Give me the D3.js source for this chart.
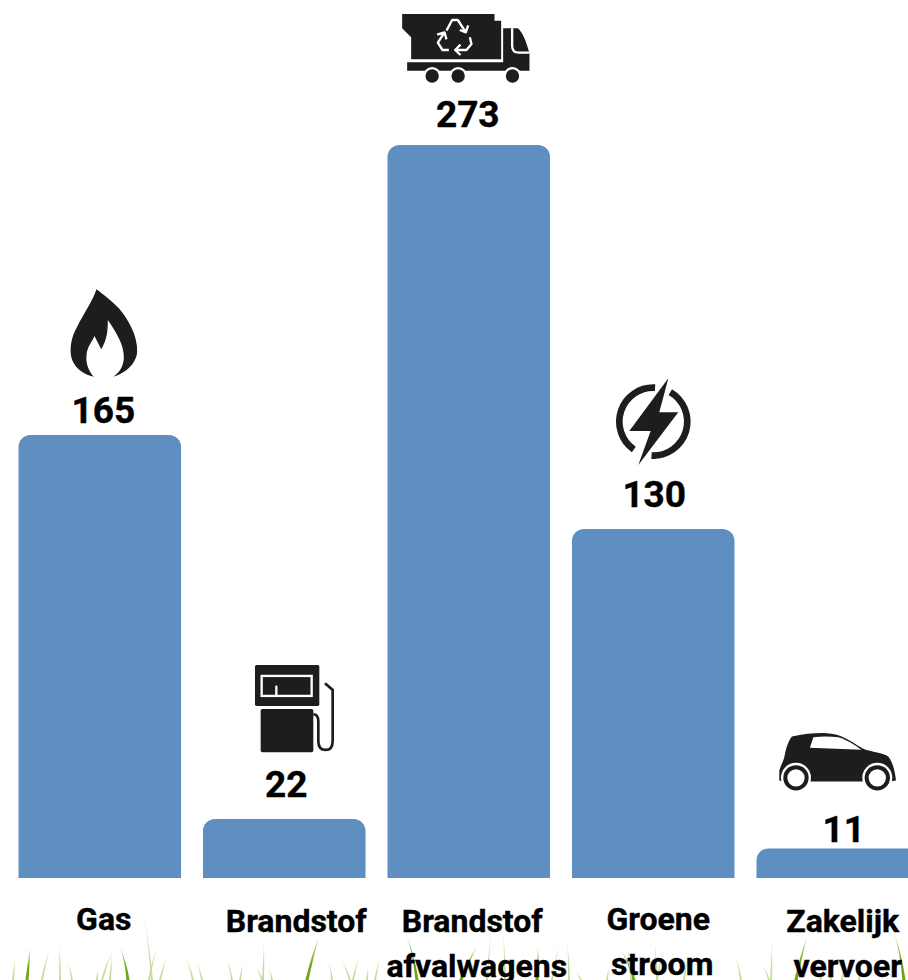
<!DOCTYPE html>
<html lang="en">
  <head>
    <meta charset="utf-8" />
    <title>Uitstoot per bron</title>
    <script src="https://cdnjs.cloudflare.com/ajax/libs/d3/7.8.5/d3.min.js"></script>
    <style type="text/css">
      html, body { margin: 0; padding: 0; background: #fff; overflow: hidden; }
      svg { display: block; }
      text { font-family: Roboto, sans-serif; font-weight: 700; fill: #000; stroke: #000; stroke-width: 0.4px; text-anchor: middle; }
    </style>
  </head>

  <body>
    <div id="chart"></div>
    <script>
      const categories = ['Gas', 'Brandstof', 'Brandstof afvalwagens', 'Groene stroom', 'Zakelijk vervoer'];
      const values = [165, 22, 273, 130, 11];
      const categoryLines = [['Gas'], ['Brandstof'], ['Brandstof', 'afvalwagens'], ['Groene', 'stroom'], ['Zakelijk', 'vervoer']];

      // label placement (not centred in the original)
      const valueDx = [3.5, 2, -1, 1, 6];
      const valueLift = [12, 22, 18, 22, 6];
      const categoryDx = [4, 12, 3.5, 5, 5];
      const categoryDxLine2 = [0, 0, 4.5, 4, 5];
      const categoryBaseline = [930, 932, 932, 930, 932];
      const iconDx = [32, 27, -7, 28, 3.5];
      const iconDy = [-155, -164, -145, -159, -128];

      // grass blades: [base x, tip x, tip y, strong?]
      const blades = [
        [13, 15, 958, 0], [27, 30, 948, 1], [42, 50, 947, 0], [60, 59, 940, 0], [72, 67, 960, 0],
        [97, 98, 968, 0], [102, 113, 950, 0], [110, 112, 953, 0], [128, 120, 947, 1], [152, 142, 907, 0],
        [149, 157, 947, 0], [160, 167, 957, 0], [193, 183, 953, 0], [202, 195, 958, 0], [232, 225, 955, 0],
        [240, 243, 963, 0], [262, 253, 963, 0], [263, 264, 938, 0], [272, 268, 967, 0], [307, 319, 937, 1],
        [332, 328, 960, 0], [350, 337, 953, 0], [353, 359, 957, 0], [367, 368, 967, 0], [375, 380, 958, 0],
        [417, 406, 933, 1], [461, 477, 947, 1], [487, 491, 933, 0], [505, 503, 930, 0], [537, 538, 947, 1],
        [552, 559, 945, 0], [569, 567, 938, 0], [581, 574, 970, 0], [607, 609, 967, 0], [634, 619, 947, 1],
        [631, 627, 945, 0], [657, 654, 938, 0], [657, 664, 947, 0], [684, 687, 957, 0], [741, 734, 953, 0],
        [769, 761, 963, 0], [771, 772, 938, 0], [796, 807, 937, 1], [821, 817, 967, 0], [831, 834, 953, 0],
        [842, 844, 967, 0], [859, 862, 960, 0], [904, 894, 932, 1]
      ];

      const width = 908, height = 980;
      const baseY = 878, topY = 145, corner = 12;

      const svg = d3.select('#chart')
        .append('svg')
        .attr('width', width)
        .attr('height', height);

      const x = d3.scaleBand()
        .domain(categories)
        .range([18.5, 919])
        .paddingInner(0.119)
        .paddingOuter(0);

      const y = d3.scaleLinear()
        .domain([0, d3.max(values)])
        .range([baseY, topY]);

      // blades fade out toward the tip
      const defs = svg.append('defs');
      [['bladeStrong', '#6ea51c', '#cfe3a8'], ['bladeFaint', '#c6dc9c', '#eef5e0']].forEach(([id, low, high]) => {
        const g = defs.append('linearGradient')
          .attr('id', id)
          .attr('x1', 0).attr('y1', 1).attr('x2', 0).attr('y2', 0);
        g.append('stop').attr('offset', '35%').attr('stop-color', low);
        g.append('stop').attr('offset', '100%').attr('stop-color', high);
      });

      // grass sits behind everything
      const grass = svg.append('g');
      blades.forEach(([bx, tx, ty, strong]) => {
        const p = d3.path();
        const w = strong ? 1.6 : 1;
        p.moveTo(bx - w, height);
        p.quadraticCurveTo(bx + (tx - bx) * 0.4, ty + (height - ty) * 0.4, tx, ty);
        p.quadraticCurveTo(bx + (tx - bx) * 0.4 + w, ty + (height - ty) * 0.45, bx + w, height);
        p.closePath();
        grass.append('path')
          .attr('d', p.toString())
          .attr('fill', strong ? 'url(#bladeStrong)' : 'url(#bladeFaint)');
      });

      function barPath(cat, value) {
        const l = x(cat), r = l + x.bandwidth(), t = y(value), b = y(0);
        const p = d3.path();
        p.moveTo(l, b);
        p.lineTo(l, t + corner);
        p.arcTo(l, t, l + corner, t, corner);
        p.lineTo(r - corner, t);
        p.arcTo(r, t, r, t + corner, corner);
        p.lineTo(r, b);
        p.closePath();
        return p.toString();
      }

      svg.append('g').selectAll('path')
        .data(categories)
        .join('path')
        .attr('d', (d, i) => barPath(d, values[i]))
        .attr('fill', '#5f8fc0');

      svg.append('g').selectAll('text')
        .data(categories)
        .join('text')
        .attr('x', (d, i) => x(d) + x.bandwidth() / 2 + valueDx[i])
        .attr('y', (d, i) => y(values[i]) - valueLift[i])
        .attr('font-size', 37)
        .text((d, i) => values[i]);

      categories.forEach((cat, i) => {
        categoryLines[i].forEach((line, j) => {
          svg.append('text')
            .attr('x', x(cat) + x.bandwidth() / 2 + categoryDx[i] + (j ? categoryDxLine2[i] : 0))
            .attr('y', categoryBaseline[i] + j * 45)
            .attr('font-size', 32)
            .text(line);
        });
      });

      // icons, drawn at 3x and scaled down
      const ink = '#1d1d1b';
      const icons = categories.map((cat, i) => svg.append('g')
        .attr('transform', `translate(${x(cat) + iconDx[i]},${y(values[i]) + iconDy[i]}) scale(${1 / 3})`));

      // flame
      icons[0].append('path')
        .attr('fill', ink)
        .attr('d', 'M138,28 C128,60 100,100 80,140 C62,170 55,210 65,240 C75,265 100,285 130,290 C115,275 105,250 108,225 C110,200 125,185 132,168 L152,208 C170,180 172,150 172,120 C200,160 222,200 220,235 C218,262 205,280 188,290 C225,280 258,250 260,215 C262,170 235,120 205,85 C180,60 160,45 138,28 Z');

      // pump
      icons[1].append('rect').attr('x', 75).attr('y', 30).attr('width', 193).attr('height', 123).attr('rx', 5).attr('fill', ink);
      icons[1].append('rect').attr('x', 95).attr('y', 63).attr('width', 150).attr('height', 60).attr('fill', 'none').attr('stroke', '#fff').attr('stroke-width', 7);
      icons[1].append('path').attr('d', 'M139,122 V95').attr('stroke', '#fff').attr('stroke-width', 7).attr('stroke-linecap', 'round');
      icons[1].append('rect').attr('x', 92).attr('y', 162).attr('width', 158).attr('height', 130).attr('rx', 5).attr('fill', ink);
      icons[1].append('path')
        .attr('d', 'M250,178 Q265,178 265,200 V258 Q265,285 287,285 Q308,285 308,258 V105 L285,85')
        .attr('fill', 'none').attr('stroke', ink).attr('stroke-width', 8);

      // truck
      icons[2].append('path')
        .attr('fill', ink)
        .attr('d', 'M65,42 H342 V62 H362 V178 H92 V112 L65,85 Z');
      icons[2].append('path')
        .attr('fill', ink)
        .attr('d', 'M368,85 H412 C425,95 438,125 447,160 V212 H80 V187 H368 Z');
      icons[2].append('path')
        .attr('d', 'M395,85 V138 Q395,158 415,158 H447')
        .attr('fill', 'none').attr('stroke', '#fff').attr('stroke-width', 7);
      [155, 233, 396].forEach(cx => {
        icons[2].append('circle').attr('cx', cx).attr('cy', 228).attr('r', 27).attr('fill', '#fff');
        icons[2].append('circle').attr('cx', cx).attr('cy', 228).attr('r', 20).attr('fill', ink);
      });
      icons[2].append('path')
        .attr('fill', 'none').attr('stroke', '#fff').attr('stroke-width', 7).attr('stroke-linejoin', 'round')
        .attr('d', 'M198,92 L215,60 H232 L256,97 M238,90 L256,97 L263,76 M205,150 H186 L172,128 L192,97 M170,104 L192,97 L198,118 M268,112 L273,132 L258,150 H224 M240,134 L224,150 L240,165');

      // bolt in a broken ring
      const ring = d3.arc().innerRadius(92).outerRadius(112);
      const deg = Math.PI / 180;
      icons[3].append('path')
        .attr('transform', 'translate(160,155)')
        .attr('fill', ink)
        .attr('d', ring({ startAngle: -145 * deg, endAngle: 3 * deg }));
      icons[3].append('path')
        .attr('transform', 'translate(160,155)')
        .attr('fill', ink)
        .attr('d', ring({ startAngle: 30 * deg, endAngle: 183 * deg }));
      icons[3].append('path')
        .attr('fill', ink)
        .attr('d', 'M205,25 L88,183 H152 L115,285 L235,127 H178 Z');

      // car
      icons[4].append('path')
        .attr('fill', ink)
        .attr('d', 'M58,180 V150 C62,135 72,120 74,105 C78,85 85,60 96,48 C130,40 170,37 200,38 C240,40 262,55 310,85 C335,95 370,97 385,108 C398,125 405,150 408,180 L390,183 H68 Z');
      icons[4].append('path')
        .attr('fill', '#fff')
        .attr('d', 'M160,50 L150,82 L305,88 C285,74 262,58 235,50 C210,47 185,47 160,50 Z');
      [108, 352].forEach(cx => {
        icons[4].append('circle').attr('cx', cx).attr('cy', 172).attr('r', 45).attr('fill', '#fff');
        icons[4].append('circle').attr('cx', cx).attr('cy', 172).attr('r', 38).attr('fill', ink);
        icons[4].append('circle').attr('cx', cx).attr('cy', 172).attr('r', 26).attr('fill', '#fff');
      });
    </script>
  </body>
</html>
